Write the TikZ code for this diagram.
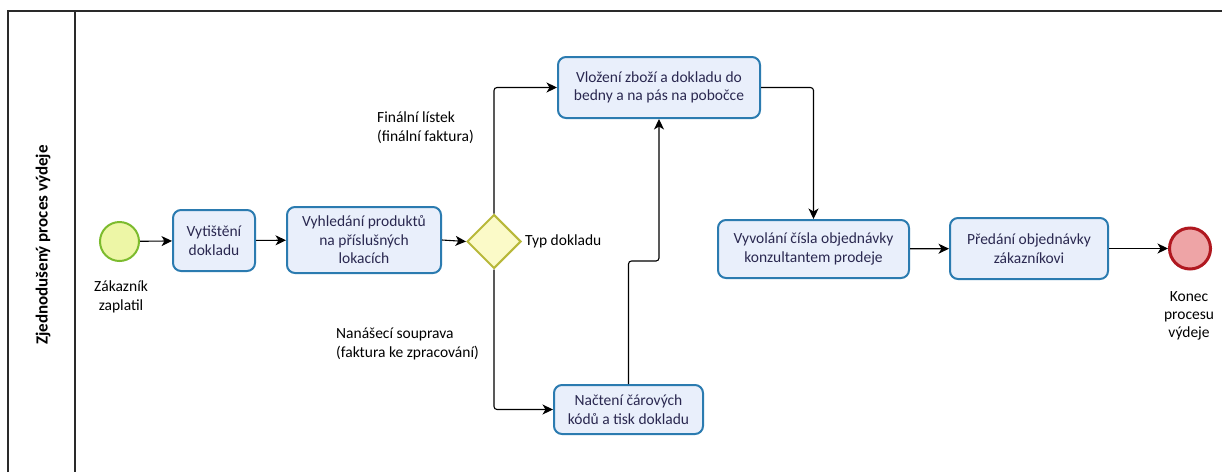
\documentclass[tikz,border=0pt]{standalone}
\usepackage{fontspec}
\setmainfont{Carlito}
\usetikzlibrary{arrows.meta,shapes.geometric,positioning}
\definecolor{taskfill}{HTML}{E9EFFB}
\definecolor{taskdraw}{HTML}{2B7BB0}
\definecolor{tasktext}{HTML}{2A2850}
\definecolor{startfill}{HTML}{EDF6A6}
\definecolor{startdraw}{HTML}{7CBB2E}
\definecolor{endfill}{HTML}{EEA4A6}
\definecolor{enddraw}{HTML}{B01820}
\definecolor{gwfill}{HTML}{FBFAC8}
\definecolor{gwdraw}{HTML}{B8B83A}
\definecolor{pooldraw}{HTML}{2A2A2A}
\tikzset{
  task/.style={draw=taskdraw, fill=taskfill, line width=2pt, rounded corners=8pt,
    align=center, font=\fontsize{15.5}{18.5}\selectfont, text=tasktext, inner sep=0pt},
  startev/.style={circle, draw=startdraw, fill=startfill, line width=2pt, minimum size=39pt, inner sep=0pt},
  endev/.style={circle, draw=enddraw, fill=endfill, line width=3pt, minimum size=41pt, inner sep=0pt},
  gw/.style={diamond, draw=gwdraw, fill=gwfill, line width=2pt, minimum width=54pt, minimum height=54pt, inner sep=0pt},
  lbl/.style={font=\fontsize{15.5}{19}\selectfont, text=black, inner sep=0pt},
  flow/.style={draw=black, line width=1.1pt, -{Stealth[length=10.5pt,width=10pt,inset=3pt]}, rounded corners=3pt},
  pool/.style={draw=pooldraw, line width=1.3pt}
}
\begin{document}
\begin{tikzpicture}[x=1pt,y=-1pt]
\useasboundingbox (0,0) rectangle (1222,472);
% pool
\draw[pool] (8,472) -- (8,11) -- (1222,11);
\draw[pool] (75,11) -- (75,472);
\node[rotate=90, font=\fontsize{17}{19}\selectfont\bfseries] (lane) at (43,245) {Zjednodušený proces výdeje};
% events
\node[startev] (start) at (119.5,241.5) {};
\node[lbl, align=center] (startlbl) at (121,297) {Zákazník\\zaplatil};
\node[endev] (end) at (1190,248.5) {};
\node[lbl, align=center, font=\fontsize{15.5}{18}\selectfont] (endlbl) at (1189,316) {Konec\\procesu\\výdeje};
% tasks
\node[task, minimum width=82pt, minimum height=61pt] (t1) at (214,240.5) {Vytištění\\dokladu};
\node[task, minimum width=154pt, minimum height=66pt] (t2) at (364,240) {Vyhledání produktů\\na příslušných\\lokacích};
\node[gw] (g) at (494,241.5) {};
\node[lbl, anchor=west] (glbl) at (525,241.5) {Typ dokladu};
\node[task, minimum width=202pt, minimum height=61pt] (t3) at (659,87.5) {Vložení zboží a dokladu do\\bedny a na pás na pobočce};
\node[task, minimum width=149pt, minimum height=49pt] (t4) at (628.5,409.5) {Načtení čárových\\kódů a tisk dokladu};
\node[task, minimum width=191pt, minimum height=58pt] (t5) at (813.5,249) {Vyvolání čísla objednávky\\konzultantem prodeje};
\node[task, minimum width=158pt, minimum height=61pt] (t6) at (1029,248.5) {Předání objednávky\\zákazníkovi};
% flow labels
\node[lbl, align=left, anchor=west] (l1) at (377,128) {Finální lístek\\(finální faktura)};
\node[lbl, align=left, anchor=west] (l2) at (336,344) {Nanášecí souprava\\(faktura ke zpracování)};
% connectors
\coordinate (j) at (644,261);
\draw[flow] (start) -- (t1);
\draw[flow] (t1) -- (t2);
\draw[flow] (t2.east) -- (g.west);
\draw[flow] (g.north) |- (t3.west);
\draw[flow] (g.south) |- (t4.west);
\draw[flow] (t4.north) |- (j) -| (t3.south);
\draw[flow] (t3.east) -| (t5.north);
\draw[flow] (t5) -- (t6);
\draw[flow] (t6.east) -- (end.west);
\end{tikzpicture}
\end{document}
